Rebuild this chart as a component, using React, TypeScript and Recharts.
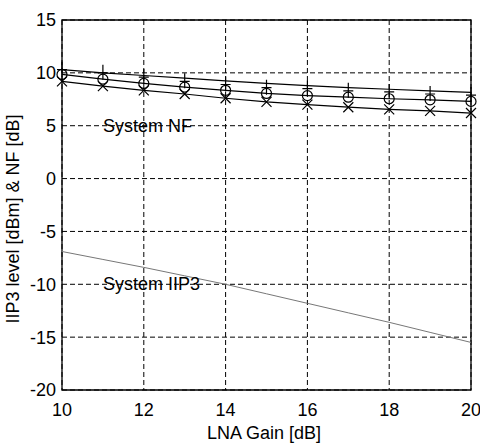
import {
  ComposedChart,
  Line,
  XAxis,
  YAxis,
  CartesianGrid,
  ReferenceArea,
  ReferenceDot,
} from 'recharts';

const FONT = '"Liberation Sans", Arial, sans-serif';

// LNA gain [dB]
const gain = [10, 11, 12, 13, 14, 15, 16, 17, 18, 19, 20];
// NF curves [dB]
const nfUpper = [10.3, 10.0, 9.75, 9.5, 9.25, 9.0, 8.8, 8.6, 8.45, 8.3, 8.15];
const nfCircle = [9.85, 9.4, 9.0, 8.65, 8.35, 8.05, 7.85, 7.7, 7.55, 7.45, 7.3];
const nfCross = [9.2, 8.75, 8.35, 8.0, 7.6, 7.25, 7.0, 6.75, 6.55, 6.4, 6.2];
const nfPlus = [10.3, 10.0, 9.6, 9.2, 8.9, 8.6, 8.5, 8.3, 8.2, 8.0, 7.9];
// system IIP3 [dBm]
const iip3 = [-6.9, -7.65, -8.4, -9.2, -10.0, -10.9, -11.8, -12.7, -13.6, -14.55, -15.5];

const xTicks = [10, 12, 14, 16, 18, 20];
const yTicks = [-20, -15, -10, -5, 0, 5, 10, 15];

const data = gain.map((g, i) => ({
  gain: g,
  upper: nfUpper[i],
  circle: nfCircle[i],
  cross: nfCross[i],
  plus: nfPlus[i],
  iip3: iip3[i],
}));

type DotProps = { cx?: number; cy?: number; index?: number };

const CircleDot = ({ cx = 0, cy = 0 }: DotProps) => (
  <circle cx={cx} cy={cy} r={5} fill="none" stroke="#000" strokeWidth={1.2} />
);

const CrossDot = ({ cx = 0, cy = 0 }: DotProps) => (
  <path
    d={`M${cx - 5},${cy - 5}L${cx + 5},${cy + 5}M${cx - 5},${cy + 5}L${cx + 5},${cy - 5}`}
    stroke="#000"
    strokeWidth={1.2}
  />
);

const PlusDot = ({ cx = 0, cy = 0 }: DotProps) => (
  <path
    d={`M${cx},${cy - 8}L${cx},${cy + 7}M${cx - 5},${cy}L${cx + 5},${cy}`}
    stroke="#000"
    strokeWidth={1.2}
  />
);

const YLabel = () => (
  <text
    x={0}
    y={0}
    transform="translate(19,219) rotate(-90)"
    textAnchor="middle"
    fontSize={18}
    fontFamily={FONT}
    fill="#000"
  >
    IIP3 level [dBm] &amp; NF [dB]
  </text>
);

const XLabel = () => (
  <text x={264} y={439} textAnchor="middle" fontSize={18} fontFamily={FONT} fill="#000">
    LNA Gain [dB]
  </text>
);

const noteLabel = (text: string) => (props: any) => {
  const { viewBox } = props;
  return (
    <text
      x={viewBox.x}
      y={viewBox.y + 6}
      fontSize={18}
      fontFamily={FONT}
      fill="#000"
      textAnchor="start"
    >
      {text}
    </text>
  );
};

export default function App() {
  return (
    <div style={{ position: 'absolute', left: 0, top: 0, background: '#fff' }}>
      <ComposedChart
        width={480}
        height={446}
        data={data}
        margin={{ top: 20, right: 9, left: 0, bottom: 0 }}
      >
        <CartesianGrid stroke="#000" strokeDasharray="5 3" strokeWidth={1} />
        <XAxis
          dataKey="gain"
          type="number"
          domain={[10, 20]}
          ticks={xTicks}
          height={56}
          axisLine={false}
          tickLine={false}
          tickSize={0}
          tickMargin={13}
          tick={{ fill: '#000', fontSize: 18, fontFamily: FONT }}
          label={<XLabel />}
        />
        <YAxis
          type="number"
          domain={[-20, 15]}
          ticks={yTicks}
          width={62}
          axisLine={false}
          tickLine={false}
          tickSize={0}
          tickMargin={6}
          tick={{ fill: '#000', fontSize: 18, fontFamily: FONT }}
          label={<YLabel />}
        />
        <ReferenceArea
          x1={10}
          x2={20}
          y1={-20}
          y2={15}
          fill="none"
          stroke="#000"
          strokeWidth={1.3}
        />
        <Line
          dataKey="iip3"
          stroke="#777"
          strokeWidth={1}
          dot={false}
          isAnimationActive={false}
        />
        <Line
          dataKey="upper"
          stroke="#000"
          strokeWidth={1.2}
          dot={false}
          isAnimationActive={false}
        />
        <Line
          dataKey="circle"
          stroke="#000"
          strokeWidth={1.2}
          dot={<CircleDot />}
          isAnimationActive={false}
        />
        <Line
          dataKey="cross"
          stroke="#000"
          strokeWidth={1.2}
          dot={<CrossDot />}
          isAnimationActive={false}
        />
        <Line
          dataKey="plus"
          stroke="none"
          dot={<PlusDot />}
          activeDot={false}
          isAnimationActive={false}
        />
        <ReferenceDot
          x={11}
          y={5}
          r={0}
          fill="none"
          stroke="none"
          label={noteLabel('System NF')}
        />
        <ReferenceDot
          x={11}
          y={-10}
          r={0}
          fill="none"
          stroke="none"
          label={noteLabel('System IIP3')}
        />
      </ComposedChart>
    </div>
  );
}
